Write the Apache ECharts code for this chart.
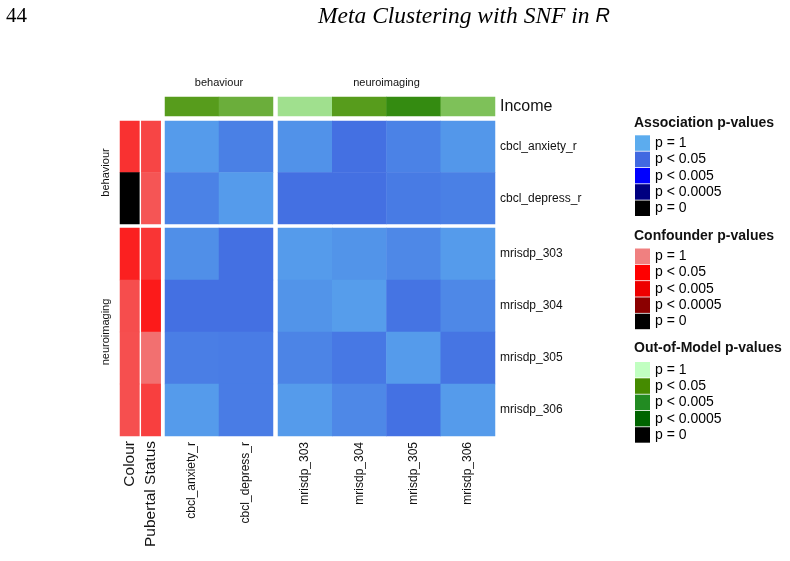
<!DOCTYPE html>
<html><head><meta charset="utf-8">
<script src="https://cdn.jsdelivr.net/npm/echarts@6/dist/echarts.min.js"></script>
<style>html,body{margin:0;padding:0;background:#fff}#c{width:790px;height:561px}</style>
</head><body><div id="c"></div>
<script>
// ---------------- data ----------------
const features = ['cbcl_anxiety_r','cbcl_depress_r','mrisdp_303','mrisdp_304','mrisdp_305','mrisdp_306'];
const featureGroups = ['behaviour','behaviour','neuroimaging','neuroimaging','neuroimaging','neuroimaging'];
const groupNames = ['behaviour','neuroimaging'];
// association p-values: rows = features, cols = features
const associationP = [
  [0.76, 0.37, 0.63, 0.15, 0.40, 0.70],
  [0.40, 0.76, 0.15, 0.15, 0.30, 0.37],
  [0.59, 0.15, 0.76, 0.66, 0.49, 0.76],
  [0.15, 0.15, 0.66, 0.79, 0.20, 0.49],
  [0.35, 0.32, 0.43, 0.26, 0.76, 0.22],
  [0.76, 0.32, 0.76, 0.49, 0.17, 0.76]
];
const confounderNames = ['Colour','Pubertal Status'];
const colourP   = [0.41, 0.00, 0.29, 0.62, 0.64, 0.64];
const pubertalP = [0.56, 0.68, 0.44, 0.24, 0.88, 0.52];
const outOfModelName = 'Income';
const incomeP = [0.19, 0.34, 0.75, 0.19, 0.028, 0.49];
const legendLabels = ['p = 1','p < 0.05','p < 0.005','p < 0.0005','p = 0'];
const legendTitles = ['Association p-values','Confounder p-values','Out-of-Model p-values'];
const pBreaks = [1, 0.05, 0.005, 0.0005, 0];
const blueRamp  = ['#5CACEE','#4169E1','#0000FF','#000080','#000000'];
const redRamp   = ['#F08080','#FF0000','#EE0000','#8B0000','#000000'];
const greenRamp = ['#C1FFC1','#458B00','#228B22','#006400','#000000'];

// ---------------- helpers ----------------
function hexToRgb(h){return [1,3,5].map(i=>parseInt(h.substr(i,2),16));}
function rampColor(p, ramp){
  for (let i=0;i<pBreaks.length-1;i++){
    const hi=pBreaks[i], lo=pBreaks[i+1];
    if (p<=hi && p>=lo){
      const t=(hi-p)/(hi-lo);
      const a=hexToRgb(ramp[i]), b=hexToRgb(ramp[i+1]);
      return 'rgb('+a.map((v,k)=>Math.round(v+(b[k]-v)*t)).join(',')+')';
    }
  }
  return ramp[ramp.length-1];
}
const labelFont = 'Liberation Sans';
const txt = '#111';
const colBlockRects = [{left:165,width:108},{left:278,width:217}];
const rowBlockRects = [{top:121,height:103},{top:228,height:208}];
const annotColRects = [{left:120,width:19.4},{left:141.3,width:19.4}];
const topAnnotRect = {top:97,height:19};

const idxByGroup = groupNames.map(g => features.map((f,i)=>i).filter(i=>featureGroups[i]===g));
const grid=[], xAxis=[], yAxis=[], series=[];
function addCartesian(rect, xCfg, yCfg){
  const i=grid.length;
  grid.push(Object.assign({show:false, containLabel:false}, rect));
  xAxis.push(Object.assign({type:'category', gridIndex:i, axisLine:{show:false}, axisTick:{show:false}, splitLine:{show:false}}, xCfg));
  yAxis.push(Object.assign({type:'category', gridIndex:i, inverse:true, axisLine:{show:false}, axisTick:{show:false}, splitLine:{show:false}}, yCfg));
  return i;
}
function heat(gi, data){
  series.push({type:'heatmap', xAxisIndex:gi, yAxisIndex:gi, data:data, silent:true, emphasis:{disabled:true}, itemStyle:{borderWidth:0}});
}

// main association blocks
groupNames.forEach((rg, ri) => {
  const rows = idxByGroup[ri];
  groupNames.forEach((cg, ci) => {
    const cols = idxByGroup[ci];
    const gi = addCartesian(
      {left:colBlockRects[ci].left, width:colBlockRects[ci].width, top:rowBlockRects[ri].top, height:rowBlockRects[ri].height},
      {data: cols.map(i=>features[i]), position:'bottom',
       axisLabel:{show: ri===1, interval:0, rotate:90, margin:6, fontSize:12, color:txt, fontFamily:labelFont}},
      {data: rows.map(i=>features[i]), position:'right',
       axisLabel:{show: ci===1, interval:0, margin:5, fontSize:12, color:txt, fontFamily:labelFont}}
    );
    const data=[];
    rows.forEach((r,yi)=>cols.forEach((c,xi)=>{
      const p=associationP[r][c];
      data.push({value:[xi,yi,p], itemStyle:{color:rampColor(p, blueRamp)}});
    }));
    heat(gi, data);
  });
});

// top annotation (Income)
groupNames.forEach((cg, ci) => {
  const cols = idxByGroup[ci];
  const gi = addCartesian(
    {left:colBlockRects[ci].left, width:colBlockRects[ci].width, top:topAnnotRect.top, height:topAnnotRect.height},
    {data: cols.map(i=>features[i]), position:'top', axisLabel:{show:false},
     name: cg, nameLocation:'middle', nameGap:9,
     nameTextStyle:{fontSize:11, color:txt, fontFamily:labelFont}},
    {data:[outOfModelName], position:'right',
     axisLabel:{show: ci===1, margin:5, fontSize:16, color:txt, fontFamily:labelFont}}
  );
  heat(gi, cols.map((c,xi)=>({value:[xi,0,incomeP[c]], itemStyle:{color:rampColor(incomeP[c], greenRamp)}})));
});

// left annotation (confounders)
const confounderP = [colourP, pubertalP];
groupNames.forEach((rg, ri) => {
  const rows = idxByGroup[ri];
  confounderNames.forEach((cn, ai) => {
    const yCfg = {data: rows.map(i=>features[i]), position:'left', axisLabel:{show:false}};
    if (ai===0){
      Object.assign(yCfg, {name: rg, nameLocation:'middle', nameRotate:90, nameGap:9,
        nameTextStyle:{fontSize:11, color:txt, fontFamily:labelFont}});
    }
    const gi = addCartesian(
      {left:annotColRects[ai].left, width:annotColRects[ai].width, top:rowBlockRects[ri].top, height:rowBlockRects[ri].height},
      {data:[cn], position:'bottom',
       axisLabel:{show: ri===1, interval:0, rotate:90, margin:5, fontSize:15.5, color:txt, fontFamily:labelFont}},
      yCfg
    );
    heat(gi, rows.map((r,yi)=>({value:[0,yi,confounderP[ai][r]], itemStyle:{color:rampColor(confounderP[ai][r], redRamp)}})));
  });
});

// legend carrier series (no data)
legendLabels.forEach(n => series.push({type:'scatter', name:n, data:[], xAxisIndex:0, yAxisIndex:0, silent:true, itemStyle:{opacity:1}}));

const ramps = [blueRamp, redRamp, greenRamp];
const legendTops = [135.3, 248.5, 362];
const legendTitleTops = [116, 229.5, 341];
const legend = ramps.map((ramp, k) => ({
  orient:'vertical', left:635, top:legendTops[k], padding:0,
  itemWidth:15, itemHeight:15.5, itemGap:0.8, icon:'rect', selectedMode:false,
  textStyle:{fontSize:14, color:'#000', fontFamily:labelFont},
  data: legendLabels.map((n,j)=>({name:n, itemStyle:{color:ramp[j], borderWidth:0, opacity:1}}))
}));

const title = [
  {text:'44', left:6, top:6, padding:0, textStyle:{fontFamily:'Liberation Serif', fontSize:21, fontWeight:'normal', color:'#000'}},
  {text:'{a|Meta Clustering with SNF in }{b|R}', left:318, top:5, padding:0,
   textStyle:{fontWeight:'normal', rich:{a:{fontFamily:'Liberation Serif', fontStyle:'italic', fontWeight:'normal', fontSize:23.5, color:'#000'},
                    b:{fontFamily:'Liberation Sans', fontStyle:'italic', fontWeight:'normal', fontSize:20, color:'#000'}}}}
].concat(legendTitles.map((t,k)=>({
  text:t, left:634, top:legendTitleTops[k], padding:0,
  textStyle:{fontSize:14, fontWeight:'bold', color:'#111', fontFamily:labelFont}
})));

const chart = echarts.init(document.getElementById('c'), null, {renderer:'canvas'});
chart.setOption({
  animation:false,
  backgroundColor:'#fff',
  title, legend, grid, xAxis, yAxis, series
});
</script></body></html>
